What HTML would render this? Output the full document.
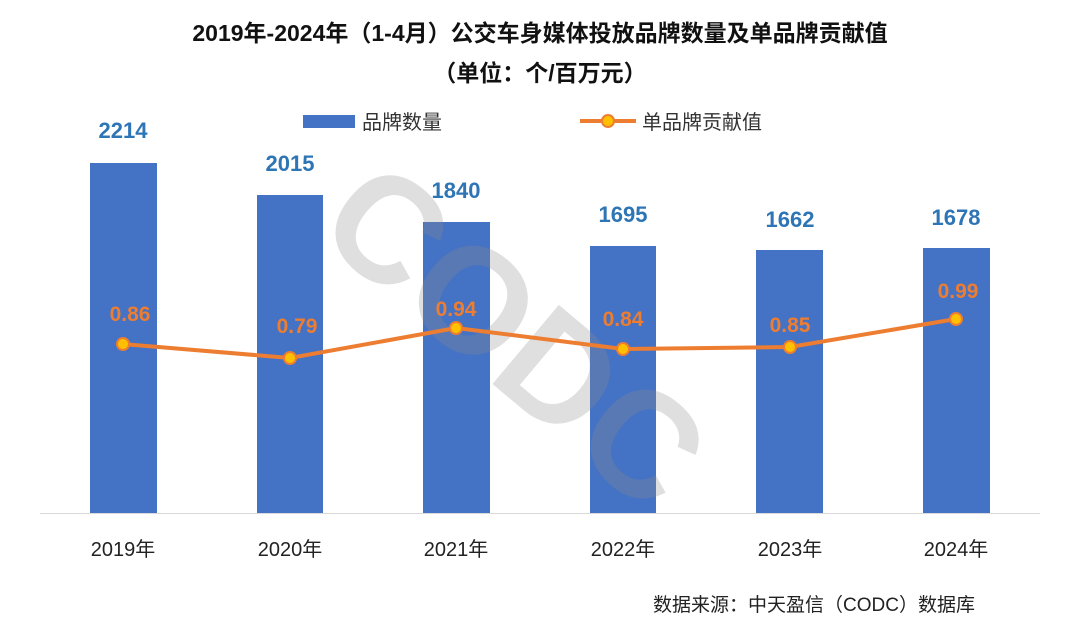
<!DOCTYPE html>
<html><head><meta charset="utf-8"><style>
body{margin:0;background:#fff;}
svg text{font-family:"Liberation Sans","Noto Sans CJK SC",sans-serif;}
</style></head><body>
<svg width="1080" height="631" viewBox="0 0 1080 631" xmlns="http://www.w3.org/2000/svg">
<rect width="1080" height="631" fill="#fff"/>
<text x="540" y="41" font-size="23" font-weight="bold" text-anchor="middle" fill="#111">2019年-2024年（1-4月）公交车身媒体投放品牌数量及单品牌贡献值</text>
<text x="540" y="81" font-size="23" font-weight="bold" text-anchor="middle" fill="#111">（单位：个/百万元）</text>
<rect x="303" y="115" width="52" height="13" fill="#4472c4"/>
<text x="362" y="129" font-size="20" fill="#333">品牌数量</text>
<line x1="580" y1="121" x2="636" y2="121" stroke="#ed7d31" stroke-width="4"/>
<circle cx="608" cy="121" r="6" fill="#ffc000" stroke="#ed7d31" stroke-width="2"/>
<text x="642" y="129" font-size="20" fill="#333">单品牌贡献值</text>
<g fill="#4472c4">
<rect x="90" y="163" width="67" height="350"/>
<rect x="257" y="195" width="66" height="318"/>
<rect x="423" y="222" width="67" height="291"/>
<rect x="590" y="246" width="66" height="267"/>
<rect x="756" y="250" width="67" height="263"/>
<rect x="923" y="248" width="67" height="265"/>
</g>
<line x1="40" y1="513.5" x2="1040" y2="513.5" stroke="#d9d9d9" stroke-width="1"/>
<g font-size="22" font-weight="bold" fill="#2e75b6" text-anchor="middle">
<text x="123" y="138">2214</text><text x="290" y="171">2015</text><text x="456" y="198">1840</text>
<text x="623" y="222">1695</text><text x="790" y="227">1662</text><text x="956" y="225">1678</text>
</g>
<g transform="translate(515,335) rotate(40)" fill="rgba(140,140,140,0.28)" font-size="150" font-weight="bold" text-anchor="middle">
<text x="0" y="52">CODC</text>
</g>
<polyline points="123,344 290,358 456,328 623,349 790,347 956,319" fill="none" stroke="#ed7d31" stroke-width="4"/>
<g fill="#ffc000" stroke="#ed7d31" stroke-width="2">
<circle cx="123" cy="344" r="6"/><circle cx="290" cy="358" r="6"/><circle cx="456" cy="328" r="6"/>
<circle cx="623" cy="349" r="6"/><circle cx="790" cy="347" r="6"/><circle cx="956" cy="319" r="6"/>
</g>
<g font-size="21" font-weight="bold" fill="#ed7d31" text-anchor="middle">
<text x="130" y="321">0.86</text><text x="297" y="333">0.79</text><text x="456" y="316">0.94</text>
<text x="623" y="326">0.84</text><text x="790" y="332">0.85</text><text x="958" y="298">0.99</text>
</g>
<g font-size="20" fill="#222" text-anchor="middle">
<text x="123" y="556">2019年</text><text x="290" y="556">2020年</text><text x="456" y="556">2021年</text>
<text x="623" y="556">2022年</text><text x="790" y="556">2023年</text><text x="956" y="556">2024年</text>
</g>
<text x="975" y="611" font-size="19" fill="#222" text-anchor="end">数据来源：中天盈信（CODC）数据库</text>
</svg>
</body></html>
